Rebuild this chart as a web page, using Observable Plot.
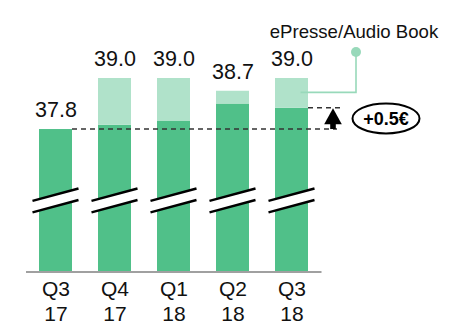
<!DOCTYPE html>
<html>
<head>
<meta charset="utf-8">
<script src="https://cdn.jsdelivr.net/npm/d3@7"></script>
<script src="https://cdn.jsdelivr.net/npm/@observablehq/plot@0.6"></script>
<style>
  html, body { margin: 0; padding: 0; background: #fff; }
  #chart svg { display: block; font-family: "Liberation Sans", Arial, sans-serif; }
</style>
</head>
<body>
<div id="chart"></div>
<script>
// ---- data ----
const categories = ["Q3\n17", "Q4\n17", "Q1\n18", "Q2\n18", "Q3\n18"];
const coreValues = [37.8, 37.9, 38.0, 38.4, 38.3];   // dark green part
const totalValues = [37.8, 39.0, 39.0, 38.7, 39.0];  // with ePresse/Audio Book
const totalLabels = ["37.8", "39.0", "39.0", "38.7", "39.0"];
const legendLabel = "ePresse/Audio Book";
const deltaLabel = "+0.5€";
const axisBase = 34.45;   // value at the (broken) baseline
const breakValue = 36.12; // where the axis break is drawn

const darkGreen = "#50c089";
const lightGreen = "#b0e2ca";
const connector = "#98d9ba";

const rows = categories.map((c, i) => ({
  cat: c, core: coreValues[i], total: totalValues[i], label: totalLabels[i]
}));

const chart = Plot.plot({
  width: 449,
  height: 326,
  marginLeft: 26,
  marginRight: 127.5,
  marginTop: 78,
  marginBottom: 54.5,
  style: {fontFamily: "Liberation Sans, Arial, sans-serif", background: "#fff"},
  x: {domain: categories, paddingInner: 0.44, paddingOuter: 0.22, align: 0.5},
  y: {domain: [axisBase, 39.0], axis: null},
  marks: [
    Plot.barY(rows, {x: "cat", y1: axisBase, y2: "core", fill: darkGreen}),
    Plot.barY(rows.filter(d => d.total > d.core), {x: "cat", y1: "core", y2: "total", fill: lightGreen}),
    Plot.ruleY([axisBase], {stroke: "#a0a0a0", strokeWidth: 2}),
    Plot.text(rows, {x: "cat", y: "total", text: "label", dy: -19, fontSize: 21.5, fill: "#111"}),
    Plot.axisX({tickSize: 0, tickPadding: 6, fontSize: 21, lineHeight: 1.19, fill: "#111", label: null})
  ]
});
document.getElementById("chart").appendChild(chart);

// ---- annotations positioned through the plot's scales ----
const xs = chart.scale("x");
const ys = chart.scale("y");
const bw = xs.bandwidth;
const svg = d3.select(chart);
const g = svg.append("g");

// axis breaks
const yc = ys.apply(breakValue);
categories.forEach(c => {
  const cx = xs.apply(c) + bw / 2;
  const h = bw / 2 + 6.5;
  const upL = [cx - h, yc + 0.45], upR = [cx + h, yc - 11.95];
  const loL = [cx - h, yc + 11.95], loR = [cx + h, yc - 0.45];
  g.append("polygon")
    .attr("points", [upL, upR, loR, loL].map(p => p.join(",")).join(" "))
    .attr("fill", "#fff");
  [[upL, upR], [loL, loR]].forEach(([a, b]) => {
    g.append("line").attr("x1", a[0]).attr("y1", a[1]).attr("x2", b[0]).attr("y2", b[1])
      .attr("stroke", "#000").attr("stroke-width", 2.4);
  });
});

// reference dashed lines
const firstRight = xs.apply(categories[0]) + bw;
const last = categories[categories.length - 1];
const lastRight = xs.apply(last) + bw;
const yLow = ys.apply(coreValues[0]);
const yHigh = ys.apply(coreValues[coreValues.length - 1]);
g.append("line").attr("x1", firstRight).attr("x2", lastRight + 29).attr("y1", yLow).attr("y2", yLow)
  .attr("stroke", "#333").attr("stroke-width", 1.6).attr("stroke-dasharray", "5,4");
g.append("line").attr("x1", lastRight).attr("x2", lastRight + 34).attr("y1", yHigh).attr("y2", yHigh)
  .attr("stroke", "#333").attr("stroke-width", 1.6).attr("stroke-dasharray", "5,4");

// arrow
const ax = lastRight + 25;
g.append("rect").attr("x", ax - 2.8).attr("y", yHigh + 14).attr("width", 5.6).attr("height", yLow - yHigh - 14)
  .attr("fill", "#000");
g.append("polygon")
  .attr("points", `${ax},${yHigh + 0.5} ${ax - 8.8},${yHigh + 16.5} ${ax + 8.8},${yHigh + 16.5}`)
  .attr("fill", "#000");

// ellipse with delta
const ex = lastRight + 78, ey = (yLow + yHigh) / 2;
g.append("ellipse").attr("cx", ex).attr("cy", ey).attr("rx", 33.5).attr("ry", 15)
  .attr("fill", "#fff").attr("stroke", "#000").attr("stroke-width", 2);
g.append("text").attr("x", ex).attr("y", ey).attr("dy", "0.35em").attr("text-anchor", "middle")
  .attr("font-size", 18).attr("font-weight", "bold").attr("fill", "#000").text(deltaLabel);

// legend connector
const lastIdx = categories.length - 1;
const ly = ys.apply((coreValues[lastIdx] + totalValues[lastIdx]) / 2) - 0.5;
const lx = lastRight + 48;
const lx0 = xs.apply(last) + bw / 2 + 9;
const dotY = ys.apply(totalValues[lastIdx]) - 26;
g.append("path").attr("d", `M${lx},${dotY} V${ly} H${lx0}`)
  .attr("fill", "none").attr("stroke", connector).attr("stroke-width", 1.6);
g.append("circle").attr("cx", lx).attr("cy", dotY).attr("r", 5).attr("fill", connector);
g.append("text").attr("x", lx - 2).attr("y", dotY - 21).attr("dy", "0.35em").attr("text-anchor", "middle")
  .attr("font-size", 18.6).attr("fill", "#111").text(legendLabel);
</script>
</body>
</html>
